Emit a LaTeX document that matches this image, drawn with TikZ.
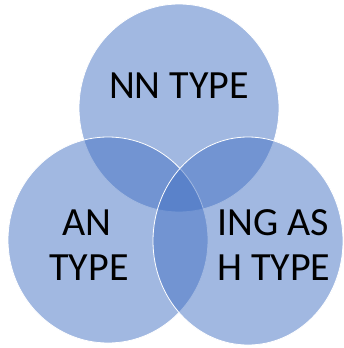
\documentclass[tikz,border=0pt]{standalone}
\usepackage{fontspec}
\setmainfont{Carlito}
\definecolor{venn}{HTML}{4472C4}
\begin{document}
\begin{tikzpicture}[x=1pt,y=-1pt,
  vset/.style={fill=venn,fill opacity=0.5,draw=white,line width=0.8pt},
  vlabel/.style={font=\fontsize{40}{45}\selectfont,text=black,align=center,inner sep=0pt}]
\useasboundingbox (0,0) rectangle (344,348);
\fill[white] (0,0) rectangle (344,348);
\draw[vset] (179,108) ellipse [x radius=100, y radius=104];
\draw[vset] (108,240) ellipse [x radius=100, y radius=103];
\draw[vset] (248,241) ellipse [x radius=95, y radius=104];
\node[vlabel,anchor=base] (nn) at (179,98) {NN TYPE};
\node[vlabel,anchor=base] (an1) at (87,235) {AN};
\node[vlabel,anchor=base] (an2) at (89,280) {TYPE};
\node[vlabel,anchor=base west] (ing1) at (217,235) {ING AS};
\node[vlabel,anchor=base west] (ing2) at (217,280) {H TYPE};
\end{tikzpicture}
\end{document}
